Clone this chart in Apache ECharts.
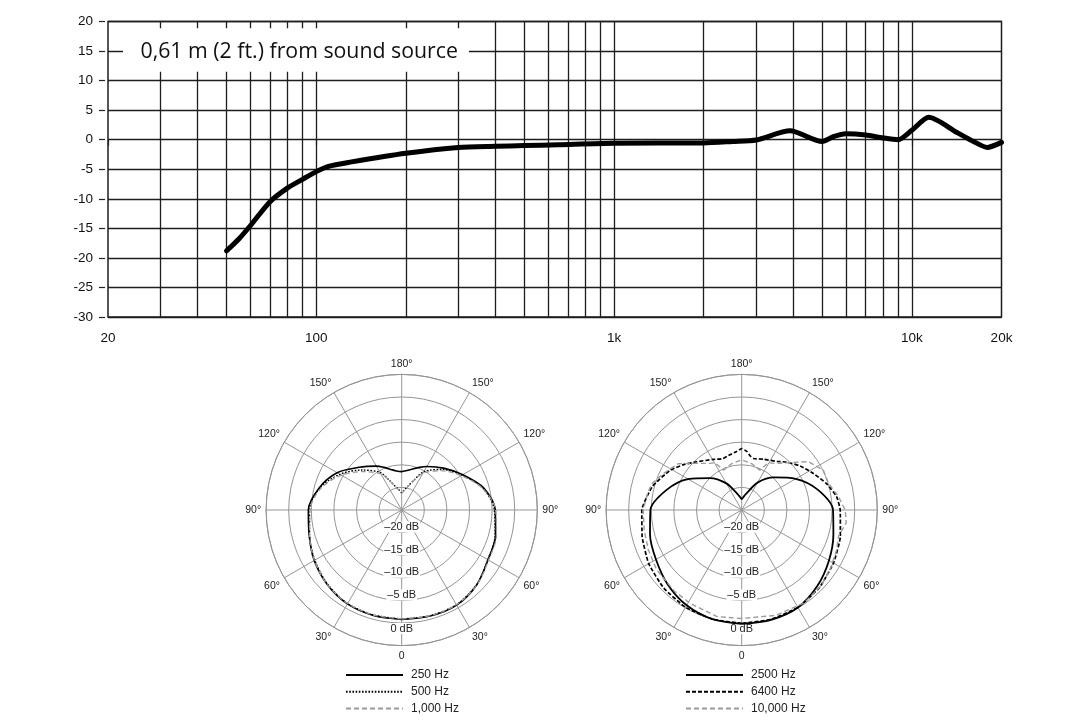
<!DOCTYPE html>
<html><head><meta charset="utf-8">
<script src="https://cdn.jsdelivr.net/npm/echarts@6/dist/echarts.min.js"></script>
<style>html,body{margin:0;padding:0;background:#fff}#c{width:1080px;height:720px}</style>
</head><body><div id="c"></div>
<script>
// ---------- frequency response ----------
const freqHz = [50,55,60,70,80,90,100,110,130,200,300,400,500,650,1000,2000,2500,3000,3900,5000,5450,6000,7000,8000,9000,10000,11400,14200,16100,17900,20000];
const respDb = [-18.8,-16.8,-14.6,-10.5,-8.2,-6.7,-5.4,-4.5,-3.8,-2.3,-1.3,-1.1,-1.0,-0.85,-0.6,-0.55,-0.3,-0.05,1.5,-0.3,0.5,1.0,0.8,0.3,0.0,1.6,3.8,1.2,-0.3,-1.3,-0.45];
const gridFreqs = [30,40,50,60,70,80,90,100,200,300,400,500,600,700,800,900,1000,2000,3000,4000,5000,6000,7000,8000,9000,10000];
const xTickText = {20:'20',100:'100',1000:'1k',10000:'10k',20000:'20k'};
const titleText = '0,61 m (2 ft.) from sound source';

// ---------- polar: low frequencies ----------
const angLow = [0,15,30,45,60,75,90,105,120,135,150,157.5,165,172.5,180,187.5,195,202.5,210,225,240,255,270,285,300,315,330,345,360];
const db250  = [-0.8,-0.85,-1.0,-1.7,-2.65,-3.8,-4.35,-6.1,-8.5,-11.65,-13.8,-14.8,-15.7,-16.3,-16.5,-16.2,-15.6,-14.8,-13.9,-11.9,-9.4,-6.2,-4.3,-3.5,-2.95,-1.55,-0.7,-0.7,-0.8];
const db500  = [-0.9,-0.95,-1.1,-1.8,-2.8,-3.9,-4.6,-6.2,-9.2,-12.5,-15.4,-17.9,-19.6,-20.5,-21.2,-20.5,-19.5,-17.8,-15.2,-12.3,-9.6,-6.4,-4.5,-3.6,-3.0,-1.6,-0.8,-0.8,-0.9];
const db1000 = [-0.9,-0.95,-1.1,-1.7,-2.7,-3.9,-4.7,-6.5,-9.6,-13.0,-15.8,-18.0,-19.7,-20.6,-21.3,-20.6,-19.6,-18.0,-15.6,-12.7,-9.8,-6.5,-4.2,-3.3,-2.8,-1.5,-0.8,-0.8,-0.9];
const namesLow = ['250 Hz','500 Hz','1,000 Hz'];

// ---------- polar: high frequencies ----------
const ang2500 = [0,15,30,45,60,75,90,105,120,135,150,165,172.5,180,187.5,195,210,225,240,255,270,285,300,315,330,345,360];
const db2500  = [0.2,0.0,-0.65,-1.8,-3.1,-4.0,-4.8,-7.8,-11.3,-15.0,-18.2,-21.3,-22.1,-22.6,-22.1,-21.3,-18.0,-14.8,-11.2,-7.6,-4.8,-4.0,-2.7,-1.3,-0.1,0.15,0.2];
const ang6400 = [0,15,30,45,60,75,90,105,119,128,137,151,160,168,175,180,185,189,193,203,216,223,233,243,253,262,270,285,300,315,330,345,360];
const db6400  = [0.1,0.0,-0.15,-0.6,-1.25,-2.2,-2.9,-4.6,-6.9,-8.7,-10.4,-12.2,-12.9,-12.5,-12.0,-11.4,-12.0,-12.9,-13.3,-12.8,-11.7,-10.5,-8.8,-7.2,-5.3,-3.8,-3.2,-2.4,-1.55,-0.7,-0.15,0.05,0.1];
const ang10k  = [0,13,29,40,55,67,78,90,98,106,115,126,135,145,150.6,155.5,168,180,192,204.5,209.4,215,225,234,244,253,262,270,277,285,293,304,314,326,342,360];
const db10k   = [-1.0,-0.8,-1.4,-1.7,-2.0,-2.55,-2.95,-3.2,-3.75,-4.2,-5.9,-7.6,-10.4,-12.4,-13.0,-15.3,-14.5,-13.9,-14.5,-15.3,-13.0,-12.4,-10.2,-6.8,-4.9,-4.9,-3.4,-2.1,-1.7,-2.8,-2.2,-1.4,-0.7,-0.25,-0.5,-1.0];
const namesHigh = ['2500 Hz','6400 Hz','10,000 Hz'];

const AX_FONT = 'Liberation Sans, Arial, sans-serif';
const GRID_BLACK = '#1e1e1e';
const POLAR_GRAY = '#959595';
const DASH_GRAY = '#9c9c9c';

function angleAxisCfg(idx){
  return {
    polarIndex: idx, type: 'value', min: 0, max: 360, interval: 30,
    startAngle: 270, clockwise: true,
    axisLine: {show: true, lineStyle: {color: POLAR_GRAY, width: 1}},
    axisTick: {show: false},
    splitLine: {show: true, lineStyle: {color: POLAR_GRAY, width: 1}},
    axisLabel: {
      margin: 5, fontSize: 10.5, color: '#222', fontFamily: AX_FONT,
      formatter: v => v === 0 ? '0' : (v <= 180 ? v : 360 - v) + '\u00b0'
    }
  };
}
function radiusAxisCfg(idx){
  return {
    polarIndex: idx, type: 'value', min: -25, max: 5, interval: 5,
    axisLine: {show: false}, axisTick: {show: false},
    splitLine: {show: true, lineStyle: {color: POLAR_GRAY, width: 1}},
    axisLabel: {
      margin: 0, align: 'center', verticalAlign: 'middle',
      formatter: v => {
        if (v > 0 || v < -20) return '';
        const t = v === 0 ? '0 dB' : '\u2013' + (-v) + ' dB';
        return v === 0 ? '{e| }\n{a|' + t + '}' : '{a|' + t + '}\n{e| }';
      },
      rich: {
        a: {backgroundColor: '#fff', padding: [0, 1], fontSize: 11, lineHeight: 12, color: '#222', fontFamily: AX_FONT},
        e: {fontSize: 6, lineHeight: 11}
      }
    }
  };
}
function polarLine(name, idx, angles, dbs, style, smooth){
  return {
    name, type: 'line', coordinateSystem: 'polar', polarIndex: idx,
    data: angles.map((a, i) => [dbs[i], a]),
    symbol: 'none', smooth: smooth, lineStyle: style, z: 3,
    itemStyle: {color: 'transparent', borderWidth: 0}
  };
}
function legendCfg(left, names){
  return {
    orient: 'vertical', left: left, top: 669, padding: 0, height: 60,
    itemWidth: 57, itemHeight: 12, itemGap: 4.7,
    selectedMode: false, data: names,
    itemStyle: {opacity: 0, borderWidth: 0},
    textStyle: {fontSize: 12, color: '#222', fontFamily: AX_FONT, padding: [0, 0, 0, 3]}
  };
}

const chart = echarts.init(document.getElementById('c'), null, {renderer: 'canvas'});
chart.setOption({
  animation: false,
  backgroundColor: '#fff',
  title: {
    text: titleText, left: 123, top: 28.3,
    padding: [12.5, 11, 8.5, 17.5], backgroundColor: '#fff',
    textStyle: {fontFamily: 'Open Sans', fontSize: 21.3, fontWeight: 'normal', color: '#111', lineHeight: 22.4}
  },
  grid: {left: 108, top: 21.5, right: 78.5, height: 295.5, show: true, borderColor: GRID_BLACK, borderWidth: 1.5, backgroundColor: 'transparent'},
  xAxis: {
    type: 'log', logBase: 10, min: 20, max: 20000, offset: 4,
    axisLine: {show: false},
    axisTick: {show: true, length: 6, lineStyle: {color: '#222', width: 1.2}},
    axisLabel: {margin: 10, fontSize: 13.5, color: '#111', fontFamily: AX_FONT, showMinLabel: true, showMaxLabel: true,
      formatter: v => xTickText[Math.round(v)] || ''},
    splitLine: {show: false}, minorTick: {show: false}
  },
  yAxis: {
    type: 'value', min: -30, max: 20, interval: 5, offset: 3,
    axisLine: {show: false},
    axisTick: {show: true, length: 6, lineStyle: {color: '#222', width: 1.2}},
    axisLabel: {margin: 12, fontSize: 13.5, color: '#111', fontFamily: AX_FONT},
    splitLine: {show: true, lineStyle: {color: GRID_BLACK, width: 1.3}}
  },
  polar: [
    {center: [401.7, 510], radius: 135.6},
    {center: [741.7, 510], radius: 135.6}
  ],
  angleAxis: [angleAxisCfg(0), angleAxisCfg(1)],
  radiusAxis: [radiusAxisCfg(0), radiusAxisCfg(1)],
  legend: [legendCfg(345, namesLow), legendCfg(685, namesHigh)],
  series: [
    {
      type: 'line', name: 'response', xAxisIndex: 0, yAxisIndex: 0,
      data: freqHz.map((f, i) => [f, respDb[i]]),
      symbol: 'none', smooth: 0.25, z: 3,
      lineStyle: {color: '#000', width: 5, cap: 'round', join: 'round'},
      markLine: {
        silent: true, symbol: 'none', z: 1, animation: false,
        label: {show: false},
        lineStyle: {color: GRID_BLACK, width: 1.3, type: 'solid'},
        data: gridFreqs.map(f => ({xAxis: f}))
      }
    },
    polarLine(namesLow[0], 0, angLow, db250, {color: '#000', width: 1.6, type: 'solid'}, 0.3),
    polarLine(namesLow[1], 0, angLow, db500, {color: '#000', width: 1.4, type: [1.6, 1.6]}, 0.3),
    polarLine(namesLow[2], 0, angLow, db1000, {color: DASH_GRAY, width: 1.3, type: [5, 3]}, 0.3),
    polarLine(namesHigh[0], 1, ang2500, db2500, {color: '#000', width: 1.8, type: 'solid'}, 0.3),
    polarLine(namesHigh[1], 1, ang6400, db6400, {color: '#000', width: 1.7, type: [4, 2]}, 0.15),
    polarLine(namesHigh[2], 1, ang10k, db10k, {color: DASH_GRAY, width: 1.4, type: [5, 3]}, false)
  ]
});
</script></body></html>
